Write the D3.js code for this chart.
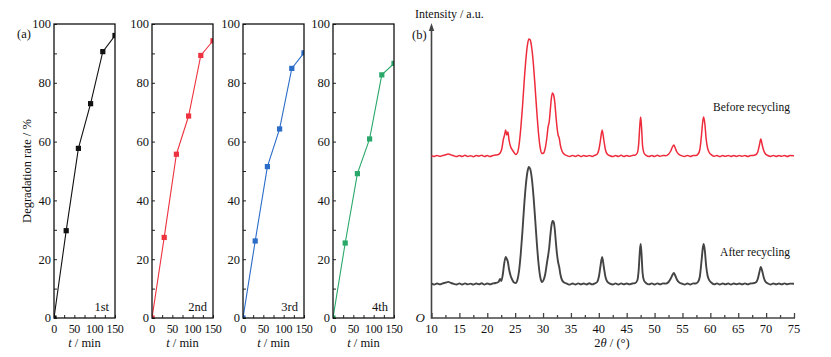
<!DOCTYPE html>
<html><head><meta charset="utf-8">
<script src="https://cdn.jsdelivr.net/npm/d3@7"></script>
<style>
body{margin:0;background:#fff;}
svg{display:block;font-family:"Liberation Serif","Times New Roman",serif;}
</style></head><body>
<svg id="c" width="831" height="357"></svg>
<script>
// ---------- Data: panel (a) ----------
const times = [0, 30, 60, 90, 120, 150];
const runLabels = ["1st", "2nd", "3rd", "4th"];
const run1 = [0, 29.7, 57.7, 72.9, 90.6, 96.1];
const run2 = [0, 27.4, 55.7, 68.7, 89.3, 94.3];
const run3 = [0, 26.2, 51.5, 64.3, 84.9, 90.2];
const run4 = [0, 25.5, 49.1, 60.9, 82.7, 86.6];
const yTicksA = [0, 20, 40, 60, 80, 100];
const xTicksA = [0, 50, 100, 150];

// ---------- Data: panel (b) XRD (relative intensity, a.u.) ----------
const seriesNames = ["Before recycling", "After recycling"];
const beforeOffset = 162;
const afterOffset = 34;
const beforeXRD = [[10,0.4],[10.5,-0.5],[11,0.6],[11.5,-0.3],[12,0.5],[12.5,1.2],[13,2.0],[13.5,1.1],[14,0.2],[14.5,-0.6],[15,0.5],[15.5,-0.4],[16,0.7],[16.5,-0.5],[17,0.3],[17.5,-0.7],[18,0.6],[18.5,-0.2],[19,0.8],[19.5,-0.5],[20,0.4],[20.5,-0.6],[21,0.5],[21.5,0.9],[22,1.5],[22.3,3],[22.6,7],[22.9,17],[23.1,21],[23.3,26],[23.5,21],[23.7,24],[23.9,16],[24.2,9],[24.5,6],[24.8,3.5],[25.1,1.5],[25.4,3],[25.7,11],[26.0,27],[26.3,48],[26.6,73],[26.9,95],[27.2,111],[27.45,117],[27.7,116],[28.0,107],[28.3,90],[28.6,67],[28.9,43],[29.2,22],[29.5,8],[29.8,2.5],[30.1,3],[30.4,8],[30.7,19],[30.9,29],[31.1,34],[31.3,46],[31.5,58],[31.7,63],[31.9,61],[32.1,54],[32.3,41],[32.5,29],[32.7,21],[32.9,18],[33.1,11],[33.4,5],[33.8,1.8],[34.3,0.4],[34.8,-0.5],[35.3,0.6],[35.8,-0.4],[36.3,0.7],[36.8,-0.6],[37.3,0.4],[37.8,-0.3],[38.3,0.6],[38.8,-0.5],[39.3,0.8],[39.7,1.8],[40.0,6],[40.3,16],[40.6,26],[40.9,16],[41.2,6],[41.5,2],[42,0.3],[42.5,-0.6],[43,0.5],[43.5,-0.4],[44,0.7],[44.5,-0.5],[45,0.4],[45.5,-0.3],[46,0.6],[46.5,0.8],[46.9,3],[47.15,12],[47.35,30],[47.5,39],[47.65,30],[47.85,10],[48.1,3],[48.5,0.6],[49,-0.5],[49.5,0.5],[50,-0.4],[50.5,0.7],[51,-0.3],[51.5,0.5],[52,0.3],[52.5,1.8],[52.9,5],[53.2,9],[53.45,11],[53.7,8],[54.0,4],[54.4,1.5],[54.9,0.2],[55.4,-0.5],[55.9,0.6],[56.4,-0.4],[56.9,0.5],[57.4,0.4],[57.8,2],[58.1,6],[58.4,20],[58.65,35],[58.8,39],[59.0,33],[59.25,17],[59.5,8],[59.8,3.5],[60.2,1.2],[60.7,-0.3],[61.2,0.5],[61.7,-0.6],[62.2,0.4],[62.7,-0.3],[63.2,0.6],[63.7,-0.5],[64.2,0.4],[64.7,-0.4],[65.2,0.6],[65.7,-0.3],[66.2,0.5],[66.7,-0.5],[67.2,0.4],[67.7,0.6],[68.2,1.5],[68.5,4],[68.8,11],[69.05,17],[69.3,11],[69.6,5],[69.9,2],[70.3,0.5],[70.8,-0.4],[71.3,0.6],[71.8,-0.5],[72.3,0.4],[72.8,-0.3],[73.3,0.5],[73.8,-0.4],[74.3,0.5],[75,0.2]];
const afterXRD = [[10,0.3],[10.5,-0.6],[11,0.5],[11.5,-0.4],[12,0.6],[12.5,1.3],[13,2.1],[13.5,1.0],[14,0.1],[14.5,-0.5],[15,0.6],[15.5,-0.5],[16,0.6],[16.5,-0.4],[17,0.4],[17.5,-0.6],[18,0.5],[18.5,-0.3],[19,0.7],[19.5,-0.6],[20,0.5],[20.5,-0.4],[21,0.6],[21.5,1.0],[22,2],[22.3,5],[22.5,3],[22.8,10],[23.0,19],[23.3,27],[23.5,25],[23.7,22],[23.9,15],[24.2,8],[24.5,4],[24.8,1.5],[25.1,1],[25.4,4],[25.7,13],[26.0,30],[26.3,52],[26.6,77],[26.9,98],[27.2,112],[27.45,117],[27.7,115],[28.0,105],[28.3,87],[28.6,64],[28.9,40],[29.2,20],[29.5,7],[29.8,2],[30.1,4],[30.4,10],[30.7,21],[30.9,28],[31.1,36],[31.3,48],[31.5,58],[31.7,63],[31.9,62],[32.1,55],[32.3,42],[32.5,30],[32.7,22],[32.9,17],[33.1,10],[33.4,4],[33.8,1.5],[34.3,0.3],[34.8,-0.6],[35.3,0.5],[35.8,-0.5],[36.3,0.6],[36.8,-0.4],[37.3,0.5],[37.8,-0.5],[38.3,0.7],[38.8,-0.4],[39.3,0.7],[39.7,2],[40.0,7],[40.3,18],[40.6,27],[40.9,17],[41.2,7],[41.5,2.5],[42,0.4],[42.5,-0.5],[43,0.6],[43.5,-0.5],[44,0.6],[44.5,-0.4],[45,0.5],[45.5,-0.4],[46,0.5],[46.5,0.9],[46.9,3.5],[47.15,14],[47.35,32],[47.5,40],[47.65,31],[47.85,11],[48.1,3.5],[48.5,0.8],[49,-0.4],[49.5,0.6],[50,-0.5],[50.5,0.6],[51,-0.4],[51.5,0.6],[52,0.4],[52.5,2],[52.9,5.5],[53.2,9],[53.45,11],[53.7,8.5],[54.0,4.5],[54.4,1.6],[54.9,0.3],[55.4,-0.6],[55.9,0.5],[56.4,-0.5],[56.9,0.6],[57.4,0.5],[57.8,2.2],[58.1,7],[58.4,22],[58.65,36],[58.8,40],[59.0,34],[59.25,18],[59.5,8.5],[59.8,3.8],[60.2,1.3],[60.7,-0.4],[61.2,0.6],[61.7,-0.5],[62.2,0.5],[62.7,-0.4],[63.2,0.5],[63.7,-0.6],[64.2,0.5],[64.7,-0.3],[65.2,0.5],[65.7,-0.4],[66.2,0.6],[66.7,-0.4],[67.2,0.5],[67.7,0.7],[68.2,1.8],[68.5,5],[68.8,12],[69.05,17],[69.3,13],[69.6,6],[69.9,2.2],[70.3,0.6],[70.8,-0.5],[71.3,0.5],[71.8,-0.4],[72.3,0.5],[72.8,-0.4],[73.3,0.6],[73.8,-0.3],[74.3,0.4],[75,0.3]];
const xTicksB = [10, 15, 20, 25, 30, 35, 40, 45, 50, 55, 60, 65, 70, 75];

// ---------- Drawing ----------
const svg = d3.select("#c");
const runs = [run1, run2, run3, run4];
const runColors = ["#111111", "#ee3340", "#2a6cc8", "#2aa86a"];
const lefts = [54, 152, 243, 333];
const plotW = 61, plotTop = 24, plotBottom = 318;
const y = d3.scaleLinear().domain([0, 100]).range([plotBottom, plotTop]);
const defs = svg.append("defs");

runs.forEach((vals, i) => {
  const x = d3.scaleLinear().domain([0, 150]).range([lefts[i], lefts[i] + plotW]);
  const g = svg.append("g");
  defs.append("clipPath").attr("id", "clip" + i).append("rect")
    .attr("x", lefts[i]).attr("y", plotTop).attr("width", plotW).attr("height", plotBottom - plotTop);

  const yAx = d3.axisRight(y).tickValues(d3.range(0, 101, 10)).tickSize(3).tickFormat("");
  g.append("g").attr("transform", `translate(${lefts[i]},0)`).call(yAx)
    .call(s => s.select(".domain").remove());
  const xAx = d3.axisTop(x).tickValues(d3.range(0, 151, 25)).tickSize(3).tickFormat("");
  g.append("g").attr("transform", `translate(0,${plotBottom})`).call(xAx)
    .call(s => s.select(".domain").remove());
  g.selectAll(".tick line").attr("stroke", "#222");

  g.selectAll(".ylab").data(yTicksA).join("text")
    .attr("x", lefts[i] - 3).attr("y", d => y(d) + 4.3)
    .attr("text-anchor", "end").attr("font-size", 12.5).attr("fill", "#111").text(d => d);
  g.selectAll(".xlab").data(xTicksA).join("text")
    .attr("x", d => x(d)).attr("y", plotBottom + 15)
    .attr("text-anchor", "middle").attr("font-size", 12).attr("letter-spacing", -0.3)
    .attr("fill", "#111").text(d => d);
  const tl = g.append("text").attr("x", lefts[i] + plotW / 2).attr("y", 347)
    .attr("text-anchor", "middle").attr("font-size", 12.5).attr("fill", "#111");
  tl.append("tspan").attr("font-style", "italic").text("t");
  tl.append("tspan").text(" / min");

  const pg = g.append("g").attr("clip-path", `url(#clip${i})`);
  const line = d3.line().x((d, j) => x(times[j])).y(d => y(d));
  pg.append("path").attr("d", line(vals)).attr("fill", "none")
    .attr("stroke", runColors[i]).attr("stroke-width", 1.1);
  pg.selectAll("rect").data(vals).join("rect")
    .attr("x", (d, j) => x(times[j]) - 2.6).attr("y", d => y(d) - 2.6)
    .attr("width", 5.2).attr("height", 5.2).attr("fill", runColors[i]);

  g.append("rect").attr("x", lefts[i]).attr("y", plotTop).attr("width", plotW).attr("height", plotBottom - plotTop)
    .attr("fill", "none").attr("stroke", "#111").attr("stroke-width", 1.3);

  g.append("text").attr("x", lefts[i] + plotW - 6).attr("y", 311)
    .attr("text-anchor", "end").attr("font-size", 12.5).attr("fill", "#111").text(runLabels[i]);
});

svg.append("text").attr("x", 17).attr("y", 38).attr("font-size", 12.5).attr("fill", "#111").text("(a)");
svg.append("text").attr("transform", "translate(31,171) rotate(-90)").attr("text-anchor", "middle")
  .attr("font-size", 12.5).attr("fill", "#111").text("Degradation rate / %");

// ---------- Panel (b) ----------
const xb = d3.scaleLinear().domain([10, 75]).range([431.5, 794]);
const yb = d3.scaleLinear().domain([0, 290]).range([318, 28]);
const gb = svg.append("g");
const axisCol = "#444";

const xbAx = d3.axisTop(xb).tickValues(xTicksB).tickSize(5).tickFormat("");
gb.append("g").attr("transform", "translate(0,318)").call(xbAx).call(s => s.select(".domain").remove());
const xbMin = d3.axisTop(xb).tickValues(d3.range(12.5, 75, 5)).tickSize(3).tickFormat("");
gb.append("g").attr("transform", "translate(0,318)").call(xbMin).call(s => s.select(".domain").remove());
gb.selectAll(".tick line").attr("stroke", axisCol).attr("stroke-width", 1.3);

gb.append("line").attr("x1", 431.5).attr("x2", 795).attr("y1", 318).attr("y2", 318)
  .attr("stroke", axisCol).attr("stroke-width", 1.6);
gb.append("line").attr("x1", 431.5).attr("x2", 431.5).attr("y1", 318.8).attr("y2", 30)
  .attr("stroke", axisCol).attr("stroke-width", 1.6);
gb.append("path").attr("d", "M431.5,23 L428.8,31 L434.2,31 Z").attr("fill", axisCol);

gb.selectAll(".xl").data(xTicksB).join("text")
  .attr("x", d => xb(d)).attr("y", 333).attr("text-anchor", "middle")
  .attr("font-size", 12.5).attr("fill", "#111").text(d => d);
const xt = gb.append("text").attr("x", 612).attr("y", 347).attr("text-anchor", "middle")
  .attr("font-size", 12.5).attr("fill", "#111");
xt.append("tspan").text("2");
xt.append("tspan").attr("font-style", "italic").text("θ");
xt.append("tspan").text(" / (°)");

gb.append("text").attr("x", 415).attr("y", 18).attr("font-size", 12).attr("fill", "#111").text("Intensity / a.u.");
gb.append("text").attr("x", 412).attr("y", 39).attr("font-size", 12.5).attr("fill", "#111").text("(b)");
gb.append("text").attr("x", 425).attr("y", 322).attr("text-anchor", "end").attr("font-size", 13)
  .attr("font-style", "italic").attr("fill", "#111").text("O");

const lineB = off => d3.line().curve(d3.curveMonotoneX).x(d => xb(d[0])).y(d => yb(d[1] + off));
gb.append("path").attr("d", lineB(beforeOffset)(beforeXRD)).attr("fill", "none")
  .attr("stroke", "#ee2b3b").attr("stroke-width", 1.5);
gb.append("path").attr("d", lineB(afterOffset)(afterXRD)).attr("fill", "none")
  .attr("stroke", "#444444").attr("stroke-width", 1.9);

gb.append("text").attr("x", 790).attr("y", 111).attr("text-anchor", "end").attr("font-size", 11.5)
  .attr("fill", "#111").text(seriesNames[0]);
gb.append("text").attr("x", 790).attr("y", 256).attr("text-anchor", "end").attr("font-size", 11.5)
  .attr("fill", "#111").text(seriesNames[1]);
</script>
</body></html>
